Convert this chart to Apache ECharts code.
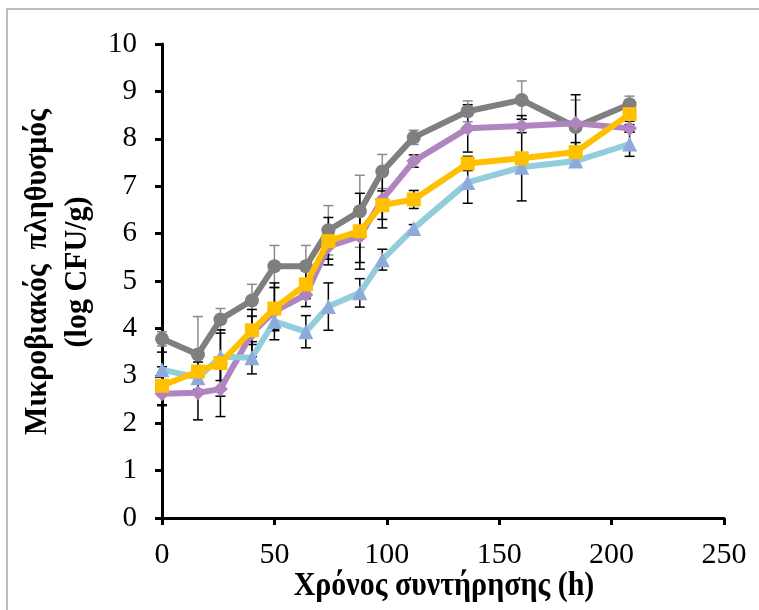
<!DOCTYPE html>
<html><head><meta charset="utf-8">
<script src="https://cdn.jsdelivr.net/npm/echarts@6/dist/echarts.min.js"></script>
<style>html,body{margin:0;padding:0;background:#fff}#c{width:759px;height:610px}</style>
</head><body><div id="c"></div>
<script>
const hours = [0,16,26,40,50,64,74,88,98,112,136,160,184,208];
const greyVals   = [3.78,3.45,4.19,4.59,5.31,5.31,6.07,6.47,7.31,8.03,8.58,8.82,8.25,8.73];
const greyErr    = [0.15,0.80,0.23,0.34,0.44,0.44,0.52,0.76,0.36,0.15,0.22,0.40,0.57,0.17];
const purpleVals = [2.62,2.64,2.72,3.90,4.36,4.71,5.73,5.94,6.72,7.53,8.22,8.27,8.33,8.22];
const purpleErr  = [0.25,0.57,0.58,0.50,0.60,0.25,0.27,0.55,0.60,0.13,0.50,0.14,0.60,0.08];
const yellowVals = [2.79,3.09,3.27,3.96,4.42,4.93,5.84,6.05,6.60,6.72,7.48,7.59,7.72,8.52];
const yellowErr  = [0.40,0.20,0.70,0.30,0.44,0.30,0.50,0.80,0.30,0.19,0.15,0.90,0.20,0.15];
const blueVals   = [3.13,2.96,3.40,3.38,4.15,3.93,4.46,4.75,5.45,6.11,7.08,7.40,7.53,7.89];
const blueErr    = [0.37,0.25,0.50,0.34,0.20,0.34,0.50,0.30,0.22,0.08,0.44,0.10,0.10,0.26];
const xTicks = [0,50,100,150,200,250];
const yTicks = [0,1,2,3,4,5,6,7,8,9,10];
const xTitle = 'Χρόνος συντήρησης (h)';
const yTitle = 'Μικροβιακός  πληθυσμός\n(log CFU/g)';

const FONT = '"Liberation Serif","Times New Roman",serif';
const chart = echarts.init(document.getElementById('c'), null, {renderer:'canvas'});

function pairs(vals){ return hours.map((h,i)=>[h, vals[i]]); }
function errData(vals, err){ return hours.map((h,i)=>[h, vals[i]-err[i], vals[i]+err[i]]); }
function errSeries(vals, err, color, z){
  return {
    type:'custom', z:z, silent:true,
    data: errData(vals, err),
    encode:{x:0, y:[1,2]},
    renderItem: function(params, api){
      const x = api.value(0);
      const lo = api.coord([x, api.value(1)]);
      const hi = api.coord([x, api.value(2)]);
      const hw = 5;
      const st = {stroke:color, lineWidth:1.5};
      return {type:'group', children:[
        {type:'line', shape:{x1:lo[0], y1:lo[1], x2:hi[0], y2:hi[1]}, style:st},
        {type:'line', shape:{x1:lo[0]-hw, y1:lo[1], x2:lo[0]+hw, y2:lo[1]}, style:st},
        {type:'line', shape:{x1:hi[0]-hw, y1:hi[1], x2:hi[0]+hw, y2:hi[1]}, style:st}
      ]};
    }
  };
}
function lineSeries(vals, lineColor, markColor, symbol, size, z){
  return {
    type:'line', z:z, data: pairs(vals), symbol:symbol, symbolSize:size,
    showAllSymbol:true, animation:false,
    lineStyle:{color:lineColor, width:6},
    itemStyle:{color:markColor, borderWidth:0}
  };
}

const option = {
  animation:false,
  backgroundColor:'#fff',
  grid:{left:162, top:44, width:562, height:474, containLabel:false},
  xAxis:{
    type:'value', min:xTicks[0], max:xTicks[xTicks.length-1], interval:50,
    axisLine:{show:true, onZero:false, lineStyle:{color:'#000', width:3}},
    axisTick:{show:true, inside:false, length:7, lineStyle:{color:'#000', width:3}},
    axisLabel:{color:'#000', fontFamily:FONT, fontSize:30, margin:22},
    splitLine:{show:false}
  },
  yAxis:{
    type:'value', min:yTicks[0], max:yTicks[yTicks.length-1], interval:1,
    axisLine:{show:true, onZero:false, lineStyle:{color:'#000', width:3}},
    axisTick:{show:true, inside:false, length:7, lineStyle:{color:'#000', width:3}},
    axisLabel:{color:'#000', fontFamily:FONT, fontSize:29, margin:25},
    splitLine:{show:false}
  },
  graphic:[
    {type:'rect', z:-10, shape:{x:7, y:9, width:800, height:700}, style:{fill:'#fff', stroke:'#a6a6a6', lineWidth:1.5}},
    {type:'text', x:444, y:586, scaleY:1.1, style:{text:xTitle, font:'bold 30px '+FONT, fill:'#000', align:'center', verticalAlign:'middle'}},
    {type:'text', x:58, y:272, rotation:Math.PI/2, scaleY:1.05, style:{text:yTitle, font:'bold 30px '+FONT, fill:'#000', align:'center', verticalAlign:'middle', lineHeight:38}}
  ],
  series:[
    errSeries(greyVals, greyErr, '#8c8c8c', 1),
    errSeries(purpleVals, purpleErr, '#000', 1),
    errSeries(yellowVals, yellowErr, '#000', 1),
    errSeries(blueVals, blueErr, '#000', 1),
    lineSeries(greyVals, '#7f7f7f', '#7f7f7f', 'circle', 14, 2),
    lineSeries(purpleVals, '#b084be', '#b084be', 'diamond', 15, 3),
    lineSeries(blueVals, '#92cddc', '#8eaadb', 'triangle', 15, 4),
    lineSeries(yellowVals, '#ffc000', '#ffc000', 'rect', 14, 5)
  ]
};
chart.setOption(option);
</script>
</body></html>
